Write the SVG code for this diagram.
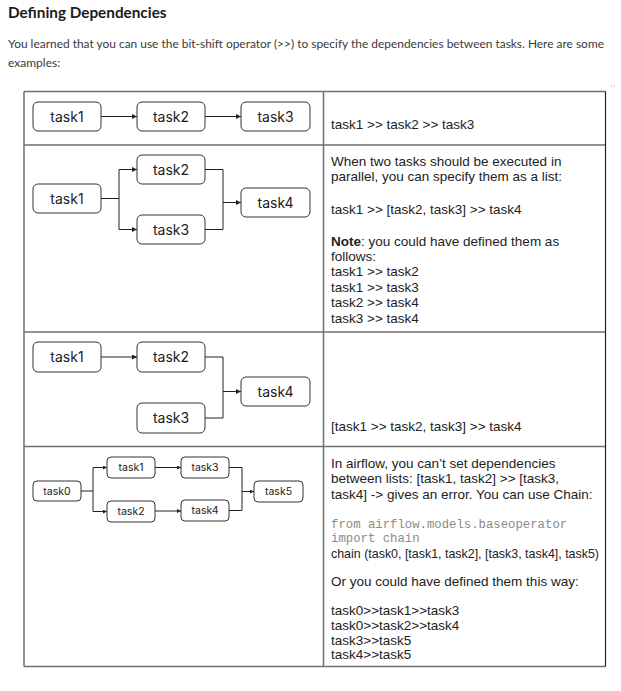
<svg xmlns="http://www.w3.org/2000/svg" width="621" height="691" viewBox="0 0 621 691">
<defs>
<marker id="ah" markerUnits="userSpaceOnUse" markerWidth="6" markerHeight="6" refX="5" refY="2.5" orient="auto">
<path d="M0,0 L5,2.5 L0,5 z" fill="#222"/>
</marker>
<marker id="ahs" markerUnits="userSpaceOnUse" markerWidth="5" markerHeight="5" refX="4" refY="2" orient="auto">
<path d="M0,0 L4,2 L0,4 z" fill="#222"/>
</marker>
</defs>
<style>
.hd{font-family:Lato,"Liberation Sans",sans-serif;font-weight:bold;font-size:15.3px;fill:#1b1b1b}
.bd{font-family:Lato,"Liberation Sans",sans-serif;font-size:12px;fill:#3a3a3a}
.grid{stroke:#707070;stroke-width:1.5;fill:none}
.nb{fill:#fff;stroke:#333;stroke-width:1}
.nt{font-family:Inter,"Liberation Sans",sans-serif;font-size:14px;fill:#222;text-anchor:middle}
.ns{font-family:Inter,"Liberation Sans",sans-serif;font-size:10.5px;fill:#222;text-anchor:middle}
.cn{fill:none;stroke:#222;stroke-width:1}
.tx{font-family:"Liberation Sans",Arial,sans-serif;font-size:13.5px;fill:#222}
.cd{font-family:"Liberation Mono","Courier New",monospace;font-size:12.3px;fill:#8a8a8a}
</style>
<rect width="621" height="691" fill="#fff"/>
<text class="hd" x="8" y="17.5">Defining Dependencies</text>
<text class="bd" x="8" y="48" textLength="596" lengthAdjust="spacingAndGlyphs">You learned that you can use the bit-shift operator (&gt;&gt;) to specify the dependencies between tasks. Here are some</text>
<text class="bd" x="8" y="67">examples:</text>
<circle cx="611.5" cy="86" r="0.7" fill="#bbb"/>
<circle cx="614.5" cy="86" r="0.7" fill="#bbb"/>
<g id="table">
<path class="grid" d="M24,91.5 H605.5 M24,145 H605.5 M24,332 H605.5 M24,446.5 H605.5 M24,666.5 H605.5 M24,91.5 V666.5 M323.5,91.5 V666.5"/>
<path d="M605.5,91.5 V666.5" stroke="#222" stroke-width="1.2"/>
</g>
<g id="connectors">
<path class="cn" d="M101,116.5 H137" marker-end="url(#ah)"/>
<path class="cn" d="M205,116.5 H241" marker-end="url(#ah)"/>
<path class="cn" d="M101,198.5 H119" stroke-width="1.6"/>
<path class="cn" d="M119,169.5 V229.5"/>
<path class="cn" d="M119,169.5 H137" marker-end="url(#ah)"/>
<path class="cn" d="M119,229.5 H137" marker-end="url(#ah)"/>
<path class="cn" d="M205,169.5 H223 V229.5 H205"/>
<path class="cn" d="M223,202.5 H241" marker-end="url(#ah)"/>
<path class="cn" d="M101,357 H137" marker-end="url(#ah)"/>
<path class="cn" d="M205,357 H223 V418 H205"/>
<path class="cn" d="M223,391.5 H241" marker-end="url(#ah)"/>
<path class="cn" d="M81,491 H93" stroke-width="1.6"/>
<path class="cn" d="M93,467.5 V511.5"/>
<path class="cn" d="M93,467.5 H107" marker-end="url(#ahs)"/>
<path class="cn" d="M93,511.5 H107" marker-end="url(#ahs)"/>
<path class="cn" d="M155,467.5 H181" marker-end="url(#ahs)"/>
<path class="cn" d="M155,511 H181" marker-end="url(#ahs)"/>
<path class="cn" d="M229,467.5 H242 V510.5 H229"/>
<path class="cn" d="M242,491.5 H254" marker-end="url(#ahs)"/>
</g>
<g id="r1-task1"><rect class="nb" x="33" y="102" width="68" height="29" rx="5"/><text class="nt" x="67" y="121.5">task1</text></g>
<g id="r1-task2"><rect class="nb" x="137" y="102" width="68" height="29" rx="5"/><text class="nt" x="171" y="121.5">task2</text></g>
<g id="r1-task3"><rect class="nb" x="241" y="102" width="69" height="29" rx="5"/><text class="nt" x="275.5" y="121.5">task3</text></g>
<g id="r2-task1"><rect class="nb" x="33" y="184" width="68" height="29" rx="5"/><text class="nt" x="67" y="203.5">task1</text></g>
<g id="r2-task2"><rect class="nb" x="137" y="155" width="68" height="29" rx="5"/><text class="nt" x="171" y="174.5">task2</text></g>
<g id="r2-task3"><rect class="nb" x="137" y="215" width="68" height="29" rx="5"/><text class="nt" x="171" y="234.5">task3</text></g>
<g id="r2-task4"><rect class="nb" x="241" y="188" width="69" height="29" rx="5"/><text class="nt" x="275.5" y="207.5">task4</text></g>
<g id="r3-task1"><rect class="nb" x="33" y="342" width="68" height="30" rx="5"/><text class="nt" x="67" y="362">task1</text></g>
<g id="r3-task2"><rect class="nb" x="137" y="342" width="68" height="30" rx="5"/><text class="nt" x="171" y="362">task2</text></g>
<g id="r3-task3"><rect class="nb" x="137" y="403" width="68" height="30" rx="5"/><text class="nt" x="171" y="423">task3</text></g>
<g id="r3-task4"><rect class="nb" x="241" y="377" width="69" height="29" rx="5"/><text class="nt" x="275.5" y="396.5">task4</text></g>
<g id="r4-task0"><rect class="nb" x="33" y="481" width="48" height="20" rx="4"/><text class="ns" x="57" y="494.8">task0</text></g>
<g id="r4-task1"><rect class="nb" x="107" y="457" width="48" height="21" rx="4"/><text class="ns" x="131" y="471.3">task1</text></g>
<g id="r4-task2"><rect class="nb" x="107" y="501" width="48" height="21" rx="4"/><text class="ns" x="131" y="515.3">task2</text></g>
<g id="r4-task3"><rect class="nb" x="181" y="457" width="48" height="21" rx="4"/><text class="ns" x="205" y="471.3">task3</text></g>
<g id="r4-task4"><rect class="nb" x="181" y="500" width="48" height="21" rx="4"/><text class="ns" x="205" y="514.3">task4</text></g>
<g id="r4-task5"><rect class="nb" x="254" y="481" width="49" height="21" rx="4"/><text class="ns" x="278.5" y="495.3">task5</text></g>
<g id="descriptions">
<text class="tx" x="331" y="128.5">task1 &gt;&gt; task2 &gt;&gt; task3</text>
<text class="tx" x="331" y="165.5">When two tasks should be executed in</text>
<text class="tx" x="331" y="181">parallel, you can specify them as a list:</text>
<text class="tx" x="331" y="213.5">task1 &gt;&gt; [task2, task3] &gt;&gt; task4</text>
<text class="tx" x="331" y="245.5"><tspan font-weight="bold">Note</tspan>: you could have defined them as</text>
<text class="tx" x="331" y="260.5">follows:</text>
<text class="tx" x="331" y="276">task1 &gt;&gt; task2</text>
<text class="tx" x="331" y="291.5">task1 &gt;&gt; task3</text>
<text class="tx" x="331" y="306.5">task2 &gt;&gt; task4</text>
<text class="tx" x="331" y="322.5">task3 &gt;&gt; task4</text>
<text class="tx" x="331" y="431">[task1 &gt;&gt; task2, task3] &gt;&gt; task4</text>
<text class="tx" x="331" y="467.5">In airflow, you can’t set dependencies</text>
<text class="tx" x="331" y="482.5">between lists: [task1, task2] &gt;&gt; [task3,</text>
<text class="tx" x="331" y="498.5">task4] -&gt; gives an error. You can use Chain:</text>
<text class="cd" x="331" y="527.5">from airflow.models.baseoperator</text>
<text class="cd" x="331" y="541.5">import chain</text>
<text class="tx" x="331" y="557.5" textLength="268" lengthAdjust="spacingAndGlyphs">chain (task0, [task1, task2], [task3, task4], task5)</text>
<text class="tx" x="331" y="585.5">Or you could have defined them this way:</text>
<text class="tx" x="331" y="614.5">task0&gt;&gt;task1&gt;&gt;task3</text>
<text class="tx" x="331" y="629.5">task0&gt;&gt;task2&gt;&gt;task4</text>
<text class="tx" x="331" y="644.5">task3&gt;&gt;task5</text>
<text class="tx" x="331" y="658.5">task4&gt;&gt;task5</text>
</g>
</svg>
